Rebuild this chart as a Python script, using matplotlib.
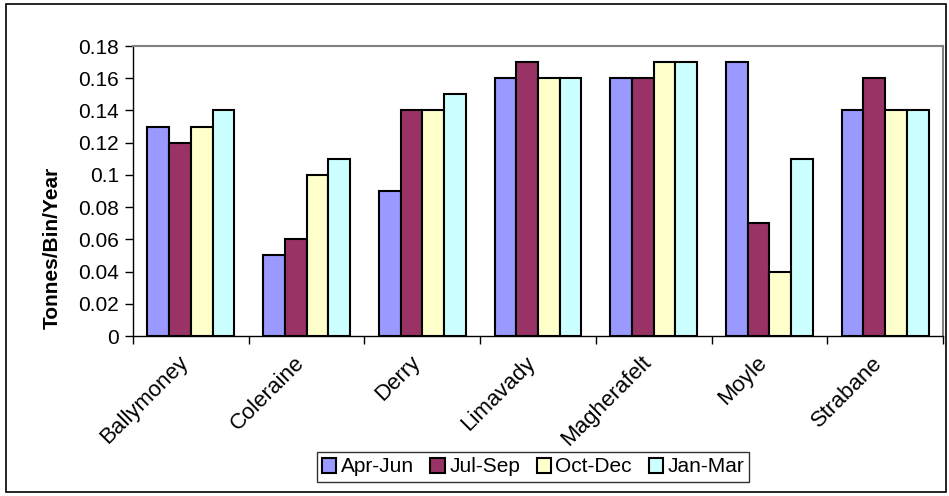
import matplotlib
matplotlib.use("Agg")
from matplotlib import pyplot as plt
from matplotlib.patches import Rectangle
from matplotlib.transforms import ScaledTranslation
import numpy as np

plt.rcParams['font.family'] = ['Liberation Sans', 'DejaVu Sans']

councils = ["Ballymoney", "Coleraine", "Derry", "Limavady",
            "Magherafelt", "Moyle", "Strabane"]
quarters = ["Apr-Jun", "Jul-Sep", "Oct-Dec", "Jan-Mar"]
apr_jun = [0.13, 0.05, 0.09, 0.16, 0.16, 0.17, 0.14]
jul_sep = [0.12, 0.06, 0.14, 0.17, 0.16, 0.07, 0.16]
oct_dec = [0.13, 0.10, 0.14, 0.16, 0.17, 0.04, 0.14]
jan_mar = [0.14, 0.11, 0.15, 0.16, 0.17, 0.11, 0.14]
colors = ["#9999FF", "#993366", "#FFFFCC", "#CCFFFF"]

fig = plt.figure(figsize=(9.49, 4.96), dpi=100)
ax = fig.add_axes([133 / 949, 1 - 336 / 496, 810 / 949, 290 / 496])

# outer chart border
fig.patches.append(Rectangle((6 / 949, 4 / 496), 940 / 949, 488 / 496,
                             transform=fig.transFigure, fill=False,
                             edgecolor="black", linewidth=1.2))

x = np.arange(len(councils))
w = 0.1875
for i, (vals, c) in enumerate(zip([apr_jun, jul_sep, oct_dec, jan_mar], colors)):
    ax.bar(x + (i - 1.5) * w, vals, w, color=c, edgecolor="black",
           linewidth=1.5, label=quarters[i])

ax.set_xlim(-0.5, len(councils) - 0.5)
ax.set_ylim(0, 0.18)
ax.set_yticks(np.arange(0, 0.181, 0.02))
ax.set_yticklabels(["0", "0.02", "0.04", "0.06", "0.08", "0.1",
                    "0.12", "0.14", "0.16", "0.18"])
ax.set_xticks(np.arange(-0.5, len(councils), 1), minor=False)
ax.set_xticklabels([])
ax.set_xticks(x, minor=True)
ax.set_xticklabels(councils, minor=True, rotation=45, ha="right",
                   va="center", rotation_mode="anchor")
ax.tick_params(axis="x", which="minor", length=0, labelsize=16, pad=17)
ax.tick_params(axis="x", which="major", length=6, direction="out", width=1)
ax.tick_params(axis="y", labelsize=15, length=6, width=1, pad=4)

# nudge the slanted names a little left of the group centres
shift = ScaledTranslation(-4 / 72, 0, fig.dpi_scale_trans)
for lab in ax.get_xticklabels(minor=True):
    lab.set_transform(lab.get_transform() + shift)

for s in ["top", "right"]:
    ax.spines[s].set_color("#808080")
    ax.spines[s].set_linewidth(1.5)
for s in ["left", "bottom"]:
    ax.spines[s].set_linewidth(1)

ax.set_ylabel("Tonnes/Bin/Year", fontsize=15, fontweight="bold")
ax.yaxis.set_label_coords(62 / 949, 0.5, transform=fig.transFigure)

leg = fig.legend(loc="center", bbox_to_anchor=(533 / 949, 1 - 467 / 496),
                 ncol=4, fontsize=15, frameon=True, fancybox=False,
                 handlelength=0.7, handleheight=0.7, handletextpad=0.2,
                 columnspacing=0.8, borderpad=0.25, borderaxespad=0)
leg.get_frame().set_edgecolor("black")
leg.get_frame().set_linewidth(1)

fig.savefig("out.png", dpi=100)
